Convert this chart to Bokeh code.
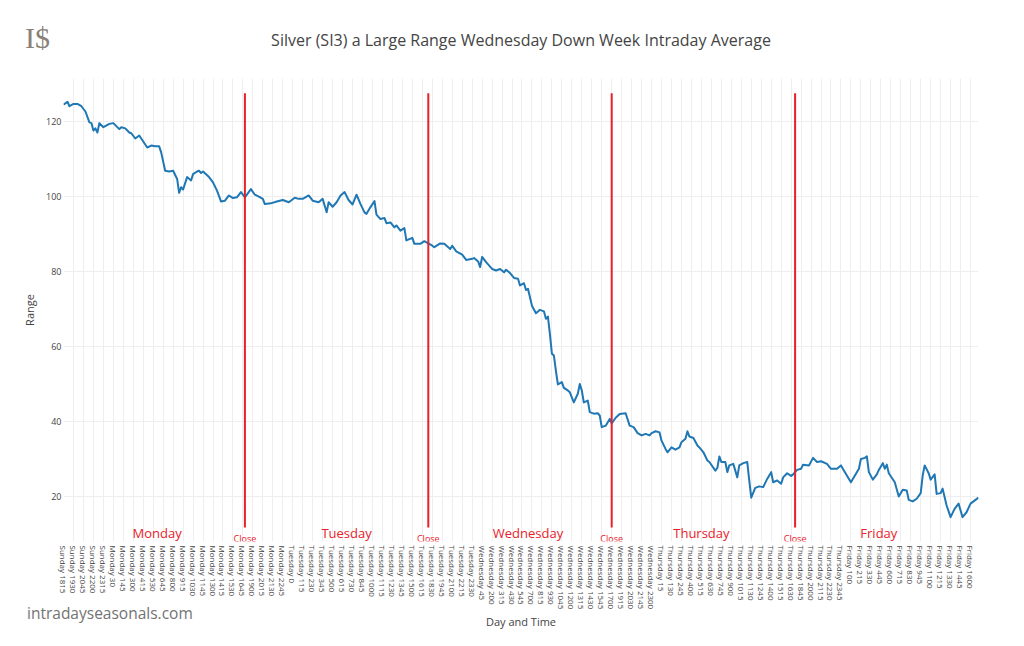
import math
from bokeh.plotting import figure
from bokeh.models import FixedTicker, Range1d, Div, GridBox
from bokeh.embed import file_html
from bokeh.resources import INLINE
from bokeh.core.properties import value

# ---------------- data ----------------
tick_labels = [
    "Sunday 1815", "Sunday 1930", "Sunday 2045", "Sunday 2200", "Sunday 2315",
    "Monday 30", "Monday 145", "Monday 300", "Monday 415", "Monday 530", "Monday 645",
    "Monday 800", "Monday 915", "Monday 1030", "Monday 1145", "Monday 1300", "Monday 1415",
    "Monday 1530", "Monday 1645", "Monday 1900", "Monday 2015", "Monday 2130", "Monday 2245",
    "Tuesday 0", "Tuesday 115", "Tuesday 230", "Tuesday 345", "Tuesday 500", "Tuesday 615",
    "Tuesday 730", "Tuesday 845", "Tuesday 1000", "Tuesday 1115", "Tuesday 1230", "Tuesday 1345",
    "Tuesday 1500", "Tuesday 1615", "Tuesday 1830", "Tuesday 1945", "Tuesday 2100", "Tuesday 2215",
    "Tuesday 2330",
    "Wednesday 45", "Wednesday 200", "Wednesday 315", "Wednesday 430", "Wednesday 545",
    "Wednesday 700", "Wednesday 815", "Wednesday 930", "Wednesday 1045", "Wednesday 1200",
    "Wednesday 1315", "Wednesday 1430", "Wednesday 1545", "Wednesday 1700", "Wednesday 1915",
    "Wednesday 2030", "Wednesday 2145", "Wednesday 2300",
    "Thursday 15", "Thursday 130", "Thursday 245", "Thursday 400", "Thursday 515", "Thursday 630",
    "Thursday 745", "Thursday 900", "Thursday 1015", "Thursday 1130", "Thursday 1245",
    "Thursday 1400", "Thursday 1515", "Thursday 1630", "Thursday 1845", "Thursday 2000",
    "Thursday 2115", "Thursday 2230", "Thursday 2345",
    "Friday 100", "Friday 215", "Friday 330", "Friday 445", "Friday 600", "Friday 715",
    "Friday 830", "Friday 945", "Friday 1100", "Friday 1215", "Friday 1330", "Friday 1445",
    "Friday 1600",
]
TICK_EVERY = 5          # one label every 5 fifteen-minute slots
SESSION_SLOTS = 92      # slots per trading session (1815 .. 1700)
N_SLOTS = 460

# slot index (15-minute bar number from Sunday 1815) and the average range
slot_idx = [
    0, 2, 3, 5, 7, 9, 11, 13, 14, 15, 16, 17, 18, 20, 23, 25, 28, 29, 31, 33,
    34, 36, 38, 39, 42, 44, 46, 48, 49, 51, 53, 55, 57, 58, 59, 60, 62, 64, 65, 67,
    68, 69, 70, 73, 75, 77, 79, 81, 83, 85, 87, 89, 90, 91, 94, 96, 98, 100, 101, 104,
    107, 110, 113, 116, 118, 120, 123, 125, 128, 130, 132, 133, 135, 137, 139, 141, 143, 145, 147, 149,
    151, 152, 154, 156, 157, 159, 161, 162, 164, 166, 167, 169, 171, 172, 175, 176, 179, 181, 183, 185,
    186, 189, 191, 194, 195, 197, 200, 202, 205, 206, 208, 209, 210, 212, 215, 217, 219, 221, 222, 224,
    226, 228, 229, 231, 232, 233, 235, 237, 239, 241, 242, 243, 244, 245, 246, 247, 248, 250, 251, 253,
    254, 256, 258, 259, 260, 261, 263, 264, 266, 268, 269, 270, 272, 274, 275, 277, 279, 282, 284, 286,
    288, 290, 292, 294, 295, 297, 299, 300, 302, 303, 305, 307, 309, 310, 312, 313, 314, 316, 318, 319,
    321, 323, 324, 327, 328, 329, 330, 332, 333, 334, 336, 338, 339, 341, 343, 344, 345, 347, 349, 351,
    353, 355, 356, 358, 360, 361, 363, 365, 366, 368, 370, 371, 374, 376, 378, 380, 383, 385, 388, 390,
    392, 394, 395, 397, 399, 400, 402, 403, 404, 406, 408, 409, 411, 412, 413, 414, 417, 419, 421, 423,
    424, 426, 428, 430, 431, 432, 434, 435, 437, 438, 440, 441, 443, 445, 447, 449, 451, 453, 455, 457,
    459,
]
range_vals = [
    124.5, 125.3, 124.1, 124.7, 124.7, 124.1, 122.7, 119.8, 119.6, 117.6, 118.2, 117.1, 119.6, 118.5, 119.4, 119.6, 118.0, 118.5, 118.2, 117.1,
    116.9, 115.5, 116.3, 115.5, 113.1, 113.6, 113.4, 113.4, 111.8, 106.9, 106.7, 106.9, 104.7, 101.0, 102.5, 101.9, 105.2, 104.3, 106.0, 106.7,
    106.9, 106.3, 106.7, 105.2, 103.8, 101.6, 98.7, 98.9, 100.3, 99.6, 99.8, 101.2, 100.5, 99.8, 102.0, 100.5, 100.0, 99.4, 98.0, 98.2,
    98.7, 99.1, 98.5, 99.7, 99.4, 99.4, 100.3, 98.9, 98.5, 99.4, 95.8, 98.5, 97.3, 98.5, 100.3, 101.2, 99.1, 97.9, 100.5, 98.0,
    95.8, 95.4, 97.2, 98.8, 95.2, 94.0, 94.3, 92.9, 93.1, 91.8, 92.3, 90.9, 91.6, 88.3, 89.0, 87.4, 87.4, 88.1, 87.5, 86.9,
    86.5, 87.5, 87.4, 86.0, 86.9, 85.4, 84.5, 83.1, 83.4, 83.6, 82.7, 81.2, 83.9, 82.5, 80.7, 80.3, 80.7, 79.8, 80.5, 79.6,
    78.3, 78.1, 76.3, 76.9, 75.1, 75.4, 70.9, 68.9, 69.8, 69.4, 67.4, 68.0, 63.4, 58.1, 57.6, 53.6, 49.9, 50.5, 49.0, 48.3,
    47.8, 45.1, 47.4, 50.0, 48.3, 45.1, 45.6, 42.5, 42.1, 42.2, 41.6, 38.5, 38.9, 40.7, 39.5, 41.0, 42.0, 42.2, 38.9, 38.5,
    36.9, 36.3, 36.7, 36.3, 36.9, 37.4, 37.1, 34.9, 32.7, 31.8, 33.1, 32.5, 33.1, 34.5, 35.4, 37.4, 36.0, 35.6, 33.6, 33.1,
    31.8, 29.6, 29.2, 26.9, 27.6, 30.7, 29.2, 29.2, 26.5, 28.3, 28.7, 25.1, 28.3, 28.9, 29.2, 24.3, 19.7, 22.3, 22.7, 22.5,
    24.7, 26.5, 23.8, 24.3, 23.4, 25.1, 26.2, 25.5, 25.9, 27.1, 27.4, 28.5, 28.3, 30.3, 29.2, 29.4, 28.7, 27.4, 27.4, 28.3,
    26.5, 24.7, 23.8, 25.6, 27.4, 30.0, 30.3, 30.7, 26.5, 24.5, 25.9, 27.1, 28.9, 27.4, 28.5, 26.2, 23.8, 20.0, 21.8, 21.6,
    19.1, 18.7, 19.4, 20.9, 25.6, 28.3, 26.2, 24.5, 25.9, 20.7, 20.9, 22.1, 17.6, 14.5, 16.7, 18.1, 14.5, 15.8, 18.1, 18.9,
    19.7,
]

day_names = ["Monday", "Tuesday", "Wednesday", "Thursday", "Friday"]
day_label_slot = [47, 142, 233, 320, 409]
close_slot = [SESSION_SLOTS * k - 1 for k in range(1, 5)]   # the 1700 bar of each day

title_text = "Silver (SI3) a Large Range Wednesday Down Week Intraday Average"
logo_text = "I$"
footer_text = "intradayseasonals.com"

# ---------------- figure ----------------
FONT = "Open Sans"
TXT = "#444444"
RED = "#e8202a"
BLUE = "#1f77b4"

y_lo, y_hi = 8.0, 131.5
p = figure(
    frame_width=915, frame_height=463,
    min_border_left=63, min_border_right=38, min_border_top=78, min_border_bottom=97,
    x_range=Range1d(0, N_SLOTS - 1), y_range=Range1d(y_lo, y_hi),
    output_backend="svg", toolbar_location=None,
    title=title_text,
)
p.outline_line_color = None
p.background_fill_color = "white"
p.border_fill_color = "white"

p.title.align = "center"
p.title.vertical_align = "middle"
p.title.text_font = FONT
p.title.text_font_size = "16px"
p.title.text_font_style = "normal"
p.title.text_color = TXT
p.title.standoff = 54

ticks = [i * TICK_EVERY for i in range(len(tick_labels))]
p.xaxis.ticker = FixedTicker(ticks=ticks)
p.xgrid.ticker = FixedTicker(ticks=ticks)
p.xaxis.major_label_overrides = {t: lab for t, lab in zip(ticks, tick_labels)}
p.xaxis.major_label_orientation = -math.pi / 2
p.yaxis.ticker = FixedTicker(ticks=[20, 40, 60, 80, 100, 120])
p.ygrid.ticker = FixedTicker(ticks=[20, 40, 60, 80, 100, 120])

for ax in (p.xaxis, p.yaxis):
    ax.axis_line_color = None
    ax.major_tick_line_color = None
    ax.minor_tick_line_color = None
    ax.major_tick_out = 0
    ax.major_tick_in = 0
    ax.minor_tick_out = 0
    ax.minor_tick_in = 0
    ax.major_label_text_font = FONT
    ax.major_label_text_color = TXT
    ax.axis_label_text_font = FONT
    ax.axis_label_text_font_size = "11px"
    ax.axis_label_text_font_style = "normal"
    ax.axis_label_text_color = TXT

p.xaxis.major_label_text_font_size = "8px"
p.yaxis.major_label_text_font_size = "9px"
p.xaxis.axis_label = "Day and Time"
p.yaxis.axis_label = "Range"
p.xaxis.major_label_standoff = 4
p.xaxis.axis_label_standoff = 2
p.yaxis.major_label_standoff = 2
p.yaxis.axis_label_standoff = 6

p.xgrid.grid_line_color = "#eeeeee"
p.ygrid.grid_line_color = "#eeeeee"
p.xgrid.grid_line_width = 1
p.ygrid.grid_line_width = 1

# series
p.line(slot_idx, range_vals, line_color=BLUE, line_width=2, line_join="round")

# close markers
span = y_hi - y_lo
p.segment(x0=close_slot, x1=close_slot, y0=[y_lo + 0.03 * span] * 4, y1=[y_lo + 0.968 * span] * 4,
          line_color=RED, line_width=2)
p.text(x=close_slot, y=[y_lo + 0.006 * span] * 4, text=["Close"] * 4,
       text_font=value(FONT), text_font_size="9px", text_color=RED,
       text_align="center", text_baseline="middle")
p.text(x=day_label_slot, y=[y_lo + 0.019 * span] * 5, text=day_names,
       text_font=value(FONT), text_font_size="13px", text_color=RED,
       text_align="center", text_baseline="middle")

# logo and footer overlaid on the same grid cell as the figure
logo = Div(text=logo_text, margin=(17, 0, 0, 25), align="start",
           styles={"font-family": "Liberation Serif", "font-size": "30px", "color": "#8a8178",
                   "position": "relative", "z-index": "10", "white-space": "nowrap"})
footer = Div(text=footer_text, margin=(602, 0, 0, 27), align="start",
             styles={"font-family": "Open Sans", "font-size": "15.5px", "color": "#737373",
                     "position": "relative", "z-index": "10", "white-space": "nowrap"})

layout = GridBox(children=[(p, 0, 0), (logo, 0, 0), (footer, 0, 0)])

open("out.html", "w").write(file_html(layout, INLINE))
